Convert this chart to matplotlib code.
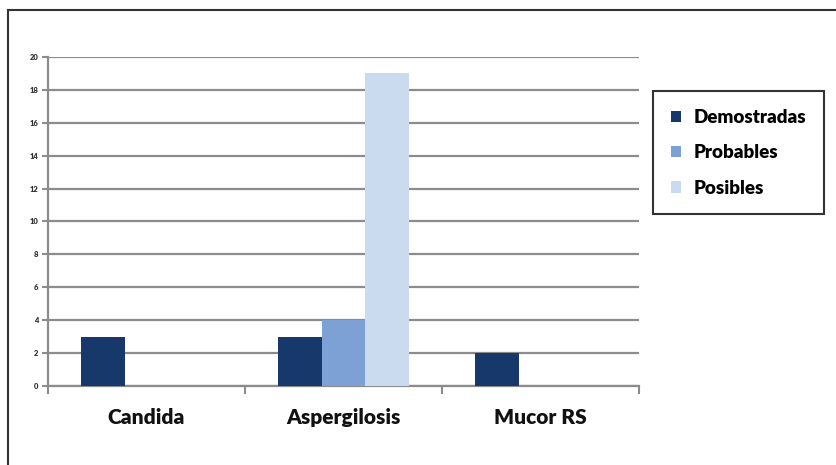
import matplotlib
matplotlib.use("Agg")
import matplotlib.pyplot as plt
from matplotlib.patches import Patch
from matplotlib.lines import Line2D
import numpy as np

categories = ["Candida", "Aspergilosis", "Mucor RS"]
series_names = ["Demostradas", "Probables", "Posibles"]
demostradas = [3, 3, 2]
probables = [0, 4, 0]
posibles = [0, 19, 0]
y_ticks = [0, 2, 4, 6, 8, 10, 12, 14, 16, 18, 20]

colors = ["#17386a", "#7ea1d5", "#cadbf0"]
grid_color = "#8c8c8c"

plt.rcParams["font.family"] = ["Lato", "DejaVu Sans"]

fig = plt.figure(figsize=(8.36, 4.65), dpi=100)
ax = fig.add_axes([48 / 836, 79 / 465, 591 / 836, 329 / 465])

x = np.arange(len(categories))
width = 0.222
series = [demostradas, probables, posibles]
for i, (vals, c) in enumerate(zip(series, colors)):
    ax.bar(x + (i - 1) * width, vals, width, color=c, zorder=3, linewidth=0)

ax.set_xlim(-0.5, len(categories) - 0.5)
ax.set_ylim(0, 20)
ax.set_yticks(y_ticks)
ax.set_yticklabels([str(t) for t in y_ticks], fontsize=5.5, color="#333333", fontweight="heavy")
ax.yaxis.grid(True, color=grid_color, linewidth=1.6, zorder=0)
ax.set_axisbelow(True)

# category ticks at the boundaries between groups
ax.set_xticks(np.arange(-0.5, len(categories), 1.0))
ax.set_xticklabels([])
ax.set_xticks(x, minor=True)
ax.set_xticklabels(categories, minor=True, fontsize=15, fontweight="heavy", color="#111111")
ax.tick_params(axis="x", which="minor", length=0, pad=16)
ax.tick_params(axis="x", which="major", length=6, width=1.5, color=grid_color, direction="out")
ax.tick_params(axis="y", length=4, width=1.5, color=grid_color, pad=3)

for side in ["top", "right"]:
    ax.spines[side].set_visible(False)
for side in ["left", "bottom"]:
    ax.spines[side].set_color(grid_color)
    ax.spines[side].set_linewidth(1.6)

handles = [Patch(facecolor=c, edgecolor="none") for c in colors]
leg = fig.legend(handles, series_names, loc="upper left",
                 bbox_to_anchor=(653 / 836, 1 - 91 / 465),
                 prop={"family": ["Lato", "DejaVu Sans"], "weight": "heavy", "size": 13.5},
                 frameon=True, fancybox=False, handlelength=0.55, handleheight=0.55,
                 handletextpad=0.65, labelspacing=0.98, borderpad=0.95, borderaxespad=0)
leg.get_frame().set_edgecolor("black")
leg.get_frame().set_linewidth(1.5)

# outer frame along the top and left edges
fig.add_artist(Line2D([8 / 836, 1.0], [1 - 10 / 465, 1 - 10 / 465], transform=fig.transFigure,
                      color="#333333", linewidth=1.5))
fig.add_artist(Line2D([8 / 836, 8 / 836], [0.0, 1 - 10 / 465], transform=fig.transFigure,
                      color="#333333", linewidth=1.5))

fig.savefig("out.png", dpi=100)
